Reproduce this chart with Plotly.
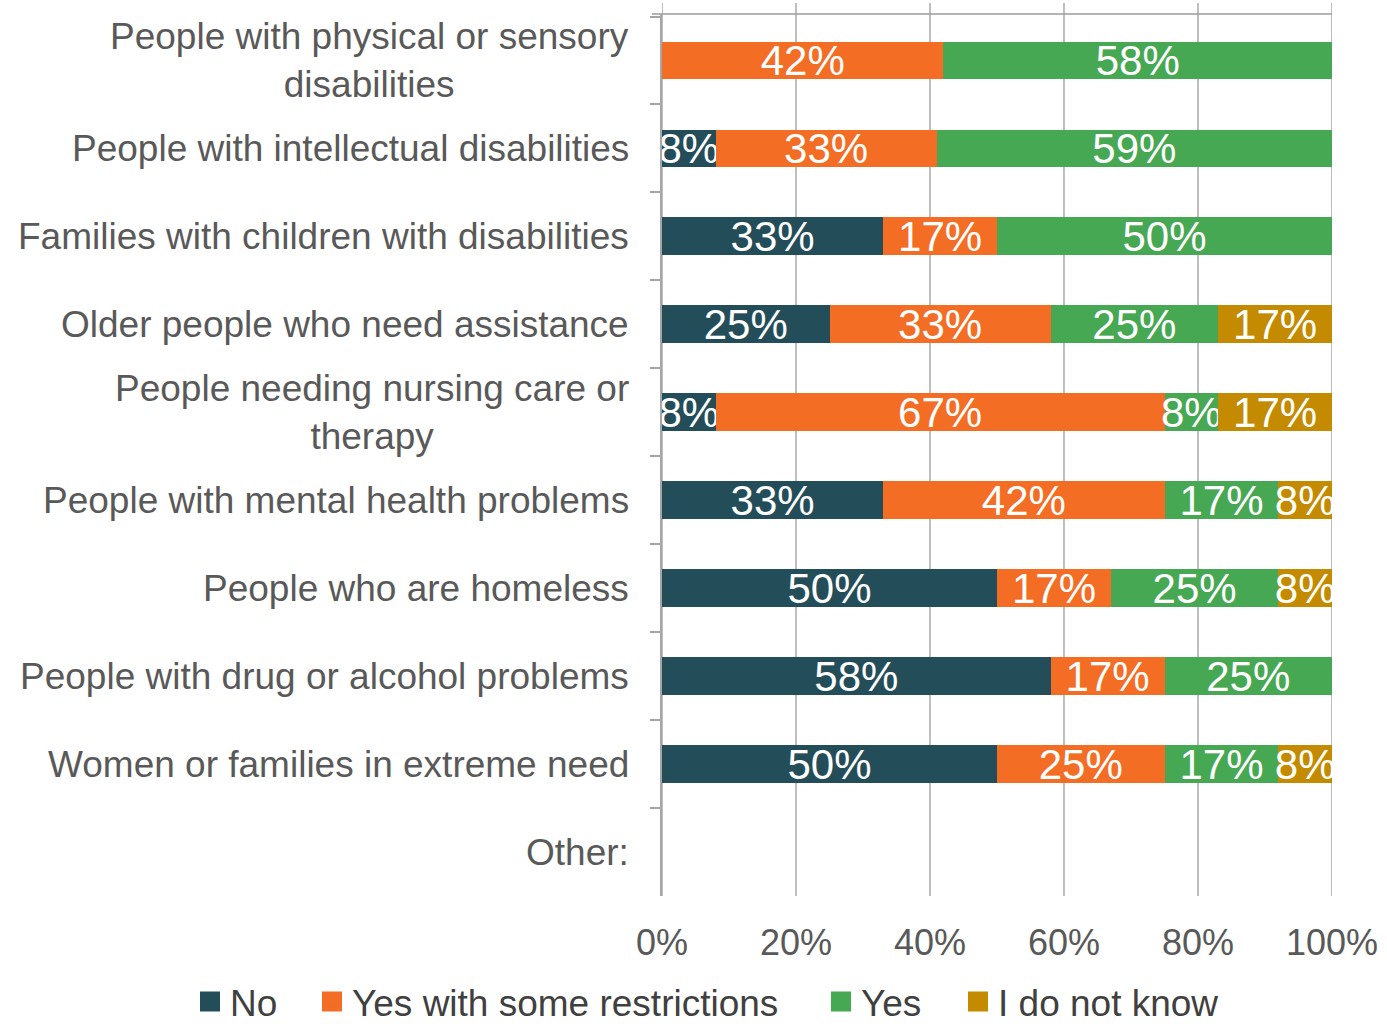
import plotly.graph_objects as go

# Response categories (top to bottom)
categories = [
    "People with physical or sensory<br>disabilities",
    "People with intellectual disabilities",
    "Families with children with disabilities",
    "Older people who need assistance",
    "People needing nursing care or<br>therapy",
    "People with mental health problems",
    "People who are homeless",
    "People with drug or alcohol problems",
    "Women or families in extreme need",
    "Other:",
]

# Share of answers per category, in percent (None = no answers)
no_vals = [None, 8, 33, 25, 8, 33, 50, 58, 50, None]
restricted_vals = [42, 33, 17, 33, 67, 42, 17, 17, 25, None]
yes_vals = [58, 59, 50, 25, 8, 17, 25, 25, 17, None]
unknown_vals = [None, None, None, 17, 17, 8, 8, None, 8, None]

series_names = ["No", "Yes with some restrictions", "Yes", "I do not know"]
series_colors = ["#244D5A", "#F36D25", "#47A853", "#C48B00"]
series_values = [no_vals, restricted_vals, yes_vals, unknown_vals]

x_ticks = [0, 20, 40, 60, 80, 100]
x_tick_labels = ["0%", "20%", "40%", "60%", "80%", "100%"]

FONT = "Liberation Sans, Arial, sans-serif"
GRID = "#9C9C9C"
AXIS = "#A6A6A6"
LABEL = "#595959"

PLOT_L, PLOT_R, PLOT_T, PLOT_B = 662, 55, 14, 128
PLOT_W = 1387 - PLOT_L - PLOT_R
PLOT_H = 1024 - PLOT_T - PLOT_B

# Left edge (px) of each legend entry along the bottom row
LEGEND_LEFT_PX = [190, 312, 821, 958]
LEGEND_MID_PX = 1002

fig = go.Figure()

for name, color, vals in zip(series_names, series_colors, series_values):
    fig.add_trace(go.Bar(
        name=name,
        y=categories,
        x=vals,
        orientation="h",
        marker=dict(color=color, line=dict(width=0)),
        text=[f"{v}%" if v else "" for v in vals],
        textposition="inside",
        insidetextanchor="middle",
        textangle=0,
        constraintext="none",
        textfont=dict(family=FONT, size=42, color="white"),
        showlegend=False,
        hoverinfo="skip",
    ))

# One small legend per series so each entry sits at its own spot in the row
legend_layout = {}
for i, (name, color) in enumerate(zip(series_names, series_colors)):
    key = "legend" if i == 0 else f"legend{i + 1}"
    fig.add_trace(go.Scatter(
        name=name,
        x=[None], y=[None],
        mode="markers",
        marker=dict(symbol="square", size=16, color=color,
                    line=dict(color=color, width=4)),
        showlegend=True,
        legend=key,
        hoverinfo="skip",
    ))
    legend_layout[key] = dict(
        orientation="h",
        xref="paper", yref="paper",
        x=(LEGEND_LEFT_PX[i] - PLOT_L) / PLOT_W,
        y=-(LEGEND_MID_PX - (1024 - PLOT_B)) / PLOT_H,
        xanchor="left", yanchor="middle",
        font=dict(family=FONT, size=37, color="#404040"),
        itemsizing="trace",
        bgcolor="rgba(0,0,0,0)",
    )

# Vertical gridlines, running slightly above the first category
shapes = []
for t in x_ticks:
    shapes.append(dict(type="line", xref="x", yref="paper",
                       x0=t, x1=t, y0=0, y1=1 + 11 / PLOT_H,
                       line=dict(color=GRID, width=1.3), layer="below"))
# Top boundary line
shapes.append(dict(type="line", xref="paper", yref="paper",
                   x0=-10 / PLOT_W, x1=1, y0=1, y1=1,
                   line=dict(color=GRID, width=1.5), layer="below"))

# Category labels, centred line by line and right-aligned to the axis
annotations = []
for cat in categories:
    annotations.append(dict(
        xref="paper", yref="y", x=-31 / PLOT_W, y=cat,
        text=cat, showarrow=False, xanchor="right", yanchor="middle",
        align="center", font=dict(family=FONT, size=37, color=LABEL),
    ))

fig.update_layout(
    width=1387, height=1024,
    margin=dict(l=PLOT_L, r=PLOT_R, t=PLOT_T, b=PLOT_B, pad=0, autoexpand=False),
    barmode="stack",
    bargap=0.57,
    plot_bgcolor="white",
    paper_bgcolor="white",
    font=dict(family=FONT, color=LABEL),
    shapes=shapes,
    annotations=annotations,
    uniformtext=dict(minsize=42, mode="show"),
    xaxis=dict(
        range=[0, 100],
        tickvals=x_ticks,
        ticktext=x_tick_labels,
        showgrid=False,
        zeroline=False,
        showline=False,
        ticks="",
        ticklabelstandoff=22,
        tickfont=dict(family=FONT, size=36, color=LABEL),
        fixedrange=True,
    ),
    yaxis=dict(
        type="category",
        categoryorder="array",
        categoryarray=categories,
        autorange="reversed",
        showticklabels=False,
        showgrid=False,
        zeroline=False,
        showline=True,
        linecolor=AXIS,
        linewidth=2,
        ticks="outside",
        tickson="boundaries",
        ticklen=10,
        tickwidth=1.5,
        tickcolor=AXIS,
        fixedrange=True,
    ),
    **legend_layout,
)

fig.write_html("out.html")
